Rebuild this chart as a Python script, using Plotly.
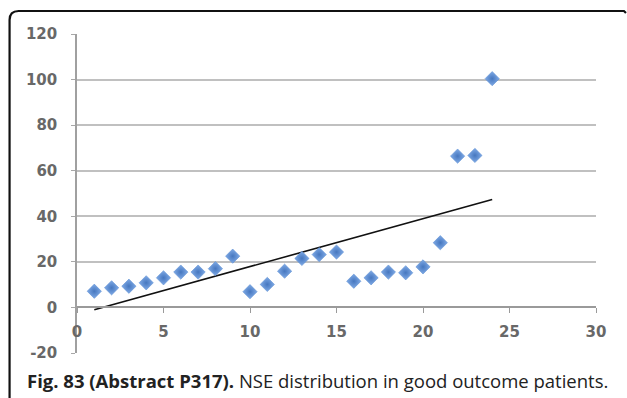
import numpy as np
import plotly.graph_objects as go

# NSE values per patient (good outcome group)
patient = list(range(1, 25))
nse = [7.1, 8.6, 9.3, 10.8, 13.0, 15.5, 15.5, 17.0, 22.5, 6.9, 10.1, 15.9,
       21.5, 23.2, 24.3, 11.5, 13.0, 15.5, 15.2, 17.8, 28.4, 66.4, 66.7, 100.4]

x_ticks = [0, 5, 10, 15, 20, 25, 30]
y_ticks = [-20, 0, 20, 40, 60, 80, 100, 120]
caption_bold = "Fig. 83 (Abstract P317)."
caption_text = " NSE distribution in good outcome patients."

# linear trend line fitted to the points
slope, intercept = np.polyfit(patient, nse, 1)
trend_x = [patient[0], patient[-1]]
trend_y = [slope * v + intercept for v in trend_x]

W, H = 627, 398
L, R, T, B = 76.5, 31, 34, 45
pw, ph = W - L - R, H - T - B


def px(xp):
    return (xp - L) / pw


def py(yp):
    return (H - B - yp) / ph


fig = go.Figure()
fig.add_trace(go.Scatter(
    x=trend_x, y=trend_y, mode="lines",
    line=dict(color="#111111", width=1.6), hoverinfo="skip", showlegend=False,
))
fig.add_trace(go.Scatter(
    x=patient, y=nse, mode="markers",
    marker=dict(symbol="diamond", size=11, color="#7faae6",
                gradient=dict(type="radial", color="#4677bf"),
                line=dict(color="rgba(90,140,210,0.55)", width=1)),
    showlegend=False,
))

tick_font = dict(family="DejaVu Sans", size=15, color="#686868", weight="bold")

ymin, ymax = y_ticks[0], y_ticks[-1]
zero_pos = (0 - ymin) / (ymax - ymin)

fig.update_layout(
    width=W, height=H,
    margin=dict(l=L, r=R, t=T, b=B, pad=0),
    paper_bgcolor="white", plot_bgcolor="white",
    xaxis=dict(
        range=[x_ticks[0], x_ticks[-1]], tickvals=x_ticks,
        ticktext=[str(v) for v in x_ticks],
        showgrid=False, zeroline=False,
        showline=True, linecolor="#9a9a9a", linewidth=1.5,
        ticks="outside", ticklen=5, tickcolor="#9a9a9a", tickwidth=1.2,
        ticklabelstandoff=6,
        anchor="free", position=zero_pos,
        tickfont=tick_font,
    ),
    yaxis=dict(
        range=[ymin, ymax], tickvals=y_ticks,
        ticktext=[str(v) for v in y_ticks],
        showgrid=True, gridcolor="#c0c0c0", gridwidth=2,
        zeroline=False,
        showline=True, linecolor="#a0a0a0", linewidth=1.5,
        ticks="outside", ticklen=4, tickcolor="#a8a8a8", tickwidth=1.2,
        ticklabelstandoff=11,
        tickfont=tick_font,
    ),
    font=dict(family="Open Sans"),
)

# rounded frame around the figure (top and left sides)
r = 9
x0, y0 = 9, 11
frame = (f"M {px(x0)},{py(H + 5)} L {px(x0)},{py(y0 + r)} "
         f"Q {px(x0)},{py(y0)} {px(x0 + r)},{py(y0)} "
         f"L {px(624)},{py(y0)} L {px(626)},{py(y0 + 2)}")
fig.add_shape(type="path", path=frame, xref="paper", yref="paper",
              line=dict(color="#111111", width=2.2))

fig.add_annotation(
    x=px(24), y=py(380), xref="paper", yref="paper",
    xanchor="left", yanchor="middle", showarrow=False,
    text=f"<b>{caption_bold}</b>{caption_text}",
    font=dict(family="Open Sans", size=18.5, color="#222222"),
)

fig.write_html("out.html")
